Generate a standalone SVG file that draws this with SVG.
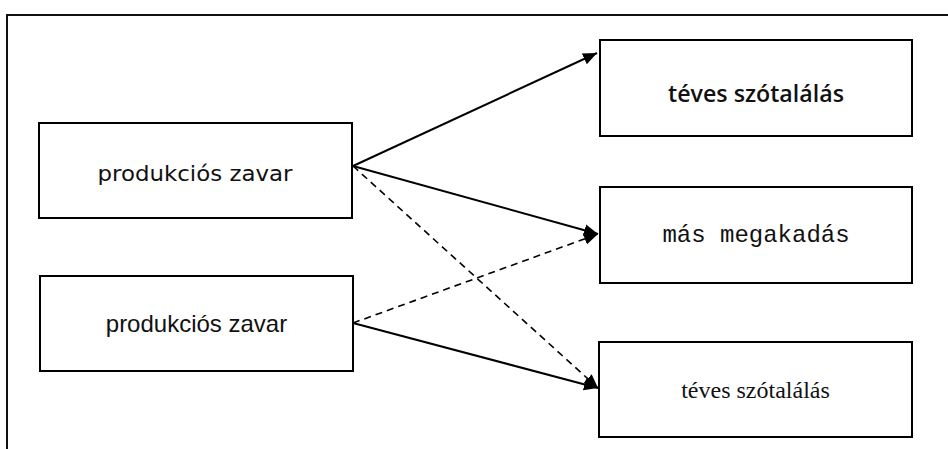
<svg xmlns="http://www.w3.org/2000/svg" width="948" height="449" viewBox="0 0 948 449">
  <style>
    .box { fill: #fff; stroke: #000; stroke-width: 2; }
    .frame { fill: none; stroke: #111; stroke-width: 2; }
    .solid { fill: none; stroke: #000; stroke-width: 2; }
    .dash { fill: none; stroke: #000; stroke-width: 1.6; stroke-dasharray: 7 5; }
    .head { fill: #000; stroke: none; }
    text { font-size: 24px; fill: #111; text-anchor: middle; }
    .gothic { font-family: "DejaVu Sans", "Liberation Sans", sans-serif; font-size: 22px; }
    .comic { font-family: "Open Sans", "Liberation Sans", sans-serif; font-size: 23px; font-weight: 600; }
    .arial { font-family: "Liberation Sans", Arial, sans-serif; }
    .mono { font-family: "Liberation Mono", "Courier New", monospace; }
    .serif { font-family: "Liberation Serif", "Times New Roman", serif; }
  </style>
  <defs>
    <marker id="arrow" markerUnits="userSpaceOnUse" markerWidth="16" markerHeight="14" refX="14" refY="6" orient="auto" viewBox="0 0 16 12">
      <path class="head" d="M0,0 L14,6 L0,12 Z"/>
    </marker>
  </defs>
  <rect width="948" height="449" fill="#fff"/>
  <path class="frame" d="M7,449 L7,15 L948,15"/>

  <g id="connectors">
    <line class="solid" x1="353" y1="166" x2="597" y2="53" marker-end="url(#arrow)"/>
    <line class="solid" x1="353" y1="166" x2="598" y2="234" marker-end="url(#arrow)"/>
    <line class="dash" x1="353" y1="166" x2="598" y2="388" marker-end="url(#arrow)"/>
    <line class="dash" x1="353" y1="323" x2="598" y2="234" marker-end="url(#arrow)"/>
    <line class="solid" x1="353" y1="323" x2="598" y2="388" marker-end="url(#arrow)"/>
  </g>

  <g id="node-produkcios-1">
    <rect class="box" x="39" y="123" width="313" height="95"/>
    <text class="gothic" x="195" y="181" textLength="195" lengthAdjust="spacingAndGlyphs">produkciós zavar</text>
  </g>
  <g id="node-produkcios-2">
    <rect class="box" x="40" y="276" width="313" height="95"/>
    <text class="arial" x="196.5" y="332">produkciós zavar</text>
  </g>
  <g id="node-teves-1">
    <rect class="box" x="600" y="40" width="312" height="96"/>
    <text class="comic" x="756" y="102" textLength="176" lengthAdjust="spacingAndGlyphs">téves szótalálás</text>
  </g>
  <g id="node-mas">
    <rect class="box" x="600" y="187" width="312" height="96"/>
    <text class="mono" x="756" y="242">más megakadás</text>
  </g>
  <g id="node-teves-2">
    <rect class="box" x="599" y="342" width="313" height="95"/>
    <text class="serif" x="755.5" y="398">téves szótalálás</text>
  </g>
</svg>
